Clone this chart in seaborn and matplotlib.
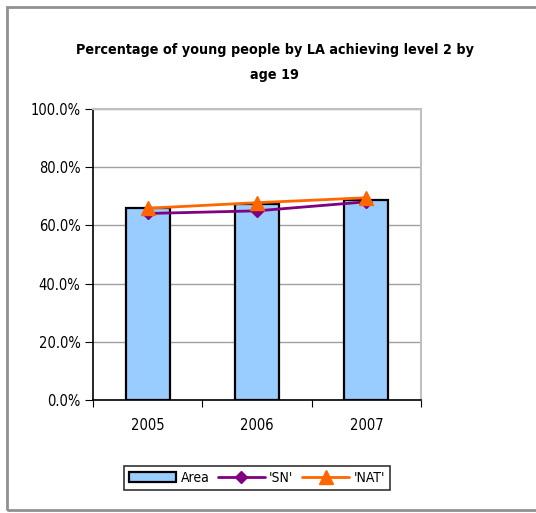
import pandas as pd
import numpy as np
import seaborn as sns
import matplotlib.pyplot as plt
from matplotlib.ticker import FuncFormatter

# values (percent)
years = ['2005', '2006', '2007']
area = [65.9, 67.3, 68.7]
sn = [64.1, 65.0, 68.1]
nat = [65.9, 67.8, 69.5]

df = pd.DataFrame({'year': years, 'Area': area})

sns.set_style('white')
plt.rcParams['font.family'] = ['DejaVu Sans']
plt.rcParams['font.stretch'] = 'condensed'
plt.rcParams['text.color'] = 'black'
plt.rcParams['xtick.color'] = 'black'
plt.rcParams['ytick.color'] = 'black'

fig = plt.figure(figsize=(5.36, 5.13), dpi=100)
ax = fig.add_axes([93/536, 1-400/513, (421-93)/536, (400-109)/513])

sns.barplot(data=df, x='year', y='Area', color='#99ccff', width=0.4,
            edgecolor='black', linewidth=1.6, saturation=1, ax=ax, label='Area')
x = np.arange(len(years))
ax.plot(x, sn, color='#800080', marker='D', markersize=6.5, lw=2, label="'SN'")
ax.plot(x, nat, color='#ff6600', marker='^', markersize=10, lw=2, label="'NAT'")
if ax.get_legend() is not None:
    ax.get_legend().remove()

ax.set_ylim(0, 100)
ax.set_xlim(-0.5, 2.5)
ax.set_yticks(range(0, 101, 20))
ax.yaxis.set_major_formatter(FuncFormatter(lambda v, p: f'{v:.1f}%'))
ax.yaxis.grid(True, color='#a0a0a0', lw=1)
ax.set_axisbelow(True)
ax.set_xticks([-0.5, 0.5, 1.5, 2.5], minor=False)
ax.set_xticklabels([])
ax.set_xticks(x, minor=True)
ax.set_xticklabels(years, minor=True)
ax.tick_params(axis='x', which='major', length=5, direction='out', bottom=True)
ax.tick_params(axis='x', which='minor', length=0, pad=13, labelsize=10.5)
ax.tick_params(axis='y', length=6, direction='out', left=True, labelsize=10.5, pad=3)
ax.set_xlabel('')
ax.set_ylabel('')
for s in ['left', 'bottom']:
    ax.spines[s].set_color('black')
    ax.spines[s].set_linewidth(1.2)
for s in ['top', 'right']:
    ax.spines[s].set_color('#c0c0c0')
    ax.spines[s].set_linewidth(1.5)

fig.text(275/536, 1-62.5/513, 'Percentage of young people by LA achieving level 2 by\nage 19',
         ha='center', va='center', fontsize=10.3, fontweight='bold', linespacing=2.0)

handles, labels = ax.get_legend_handles_labels()
order = [labels.index(l) for l in ['Area', "'SN'", "'NAT'"]]
leg = fig.legend([handles[i] for i in order], [labels[i] for i in order],
                 loc='center', bbox_to_anchor=(257/536, 1-478/513), ncol=3,
                 frameon=True, fancybox=False, edgecolor='black', fontsize=10,
                 handlelength=3.4, columnspacing=0.6, handletextpad=0.3,
                 borderpad=0.35)
leg.get_frame().set_linewidth(1.2)

# outer chart border (clipped on the right like the source)
fig.add_artist(plt.Rectangle((7/536, 3/513), 540/536, 503/513, transform=fig.transFigure,
                             fill=False, edgecolor='#909090', lw=2))

fig.savefig('out.png', dpi=100)
